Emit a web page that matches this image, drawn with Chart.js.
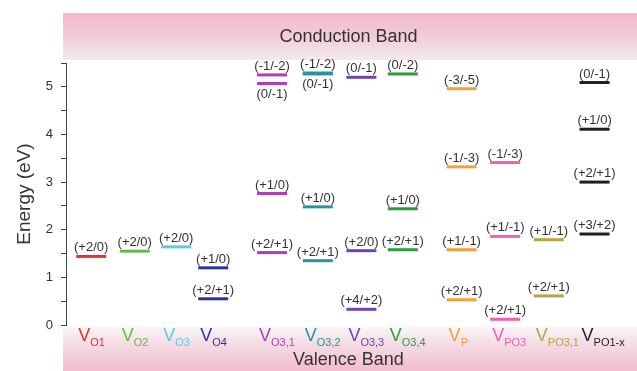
<!DOCTYPE html>
<html>
<head>
<meta charset="utf-8">
<script src="https://cdn.jsdelivr.net/npm/chart.js@4"></script>
<style>
  html, body { margin: 0; padding: 0; background: #fff; }
  #wrap { width: 637px; height: 371px; }
</style>
</head>
<body>
<div id="wrap"><canvas id="c"></canvas></div>
<script>
// Níveis de transição dos defeitos (eV)
const categories = ['O1', 'O2', 'O3', 'O4', 'O3,1', 'O3,2', 'O3,3', 'O3,4', 'P', 'PO3', 'PO3,1', 'PO1-x'];
const levelEnergies = [
  [1.44],
  [1.55],
  [1.64],
  [1.20, 0.55],
  [5.25, 5.07, 2.76, 1.52],
  [5.29, 5.27, 2.48, 1.35],
  [5.20, 1.56, 0.33],
  [5.27, 2.44, 1.58],
  [4.96, 3.32, 1.58, 0.53],
  [3.41, 1.86, 0.12],
  [1.79, 0.61],
  [5.09, 4.11, 3.00, 1.91]
];
const levelLabels = [
  ['(+2/0)'],
  ['(+2/0)'],
  ['(+2/0)'],
  ['(+1/0)', '(+2/+1)'],
  ['(-1/-2)', '(0/-1)', '(+1/0)', '(+2/+1)'],
  ['(-1/-2)', '(0/-1)', '(+1/0)', '(+2/+1)'],
  ['(0/-1)', '(+2/0)', '(+4/+2)'],
  ['(0/-2)', '(+1/0)', '(+2/+1)'],
  ['(-3/-5)', '(-1/-3)', '(+1/-1)', '(+2/+1)'],
  ['(-1/-3)', '(+1/-1)', '(+2/+1)'],
  ['(+1/-1)', '(+2/+1)'],
  ['(0/-1)', '(+1/0)', '(+2/+1)', '(+3/+2)']
];
const yTicks = [0, 1, 2, 3, 4, 5];

// layout: posição de cada coluna no eixo x, cores e rótulos abaixo da linha
const xSlot = [0, 1, 1.95, 2.8, 4.15, 5.2, 6.2, 7.15, 8.5, 9.5, 10.5, 11.55];
const cores = ['#e3312f', '#62bb46', '#5ccbe0', '#2c3593', '#b43cb4', '#279595', '#7040b8', '#2f9a3d',
               '#f5a035', '#ee5fb6', '#b5a445', '#1f1f1f'];
const labelBelow = { '4-1': true, '5-1': true };
const FONT = "'Liberation Sans', Arial, sans-serif";

const datasets = categories.map((cat, i) => ({
  label: 'V' + cat,
  data: levelEnergies[i].map(e => ({ x: xSlot[i], y: e })),
  borderColor: cores[i],
  backgroundColor: cores[i],
  pointStyle: 'line',
  pointRadius: 15,
  pointHoverRadius: 15,
  borderWidth: 3,
  showLine: false
}));

// faixas "Conduction Band" / "Valence Band"
const bandas = {
  id: 'bandas',
  beforeDraw(chart) {
    const { ctx, chartArea: a, width, height } = chart;
    const x0 = a.left - 3;
    ctx.save();
    let g = ctx.createLinearGradient(0, a.top - 50, 0, a.top - 3);
    g.addColorStop(0, '#f2bacd');
    g.addColorStop(0.45, '#f2c9d7');
    g.addColorStop(1, '#f3eaed');
    ctx.fillStyle = g;
    ctx.fillRect(x0, a.top - 50, width - x0, 47);
    g = ctx.createLinearGradient(0, a.bottom + 2, 0, height);
    g.addColorStop(0, '#f8f6f7');
    g.addColorStop(0.35, '#f5dee6');
    g.addColorStop(1, '#f2bccd');
    ctx.fillStyle = g;
    ctx.fillRect(x0, a.bottom + 2, width - x0, height - a.bottom - 2);
    ctx.fillStyle = '#333';
    ctx.font = '18px ' + FONT;
    ctx.textAlign = 'center';
    ctx.textBaseline = 'middle';
    const cx = (a.left + a.right) / 2 + 6;
    ctx.fillText('Conduction Band', cx, a.top - 26);
    ctx.fillText('Valence Band', cx, height - 11);
    ctx.restore();
  }
};

// rótulos das transições e nomes dos defeitos
const rotulos = {
  id: 'rotulos',
  afterDatasetsDraw(chart) {
    const { ctx, chartArea: a } = chart;
    const xs = chart.scales.x;
    ctx.save();
    ctx.font = '13px ' + FONT;
    ctx.fillStyle = '#333';
    ctx.textAlign = 'center';
    chart.data.datasets.forEach((ds, i) => {
      chart.getDatasetMeta(i).data.forEach((pt, j) => {
        if (labelBelow[i + '-' + j]) {
          ctx.textBaseline = 'top';
          ctx.fillText(levelLabels[i][j], pt.x, pt.y + 4);
        } else {
          ctx.textBaseline = 'alphabetic';
          ctx.fillText(levelLabels[i][j], pt.x, pt.y - 5);
        }
      });
    });
    // nomes V com subscrito, alinhados ao início da linha
    ctx.textAlign = 'left';
    ctx.textBaseline = 'alphabetic';
    categories.forEach((cat, i) => {
      const x0 = xs.getPixelForValue(xSlot[i]) - 13;
      ctx.fillStyle = cores[i];
      ctx.font = '18px ' + FONT;
      const wV = ctx.measureText('V').width;
      ctx.fillText('V', x0, a.bottom + 16);
      ctx.font = '11px ' + FONT;
      ctx.fillText(cat, x0 + wV, a.bottom + 21);
    });
    ctx.restore();
  }
};

new Chart(document.getElementById('c'), {
  type: 'scatter',
  data: { datasets },
  options: {
    responsive: true,
    maintainAspectRatio: false,
    animation: false,
    layout: { padding: { top: 63, bottom: 46, left: 0, right: 0 } },
    plugins: {
      legend: { display: false },
      tooltip: { enabled: false }
    },
    scales: {
      x: {
        type: 'linear',
        display: false,
        min: -26 / 45,
        max: 545 / 45
      },
      y: {
        min: 0,
        max: 5.5,
        afterFit(scale) { scale.width = 66; },
        border: { display: true, color: '#444', width: 1 },
        grid: { drawOnChartArea: false, drawTicks: true, tickLength: 5, color: '#444' },
        ticks: {
          stepSize: 0.5,
          padding: 8,
          color: '#333',
          font: { family: FONT, size: 13 },
          callback: v => yTicks.includes(v) ? String(v) : ''
        },
        title: {
          display: true,
          text: 'Energy (eV)',
          color: '#333',
          font: { family: FONT, size: 19 },
          padding: { top: 13, bottom: 0 }
        }
      }
    }
  },
  plugins: [bandas, rotulos]
});
</script>
</body>
</html>
